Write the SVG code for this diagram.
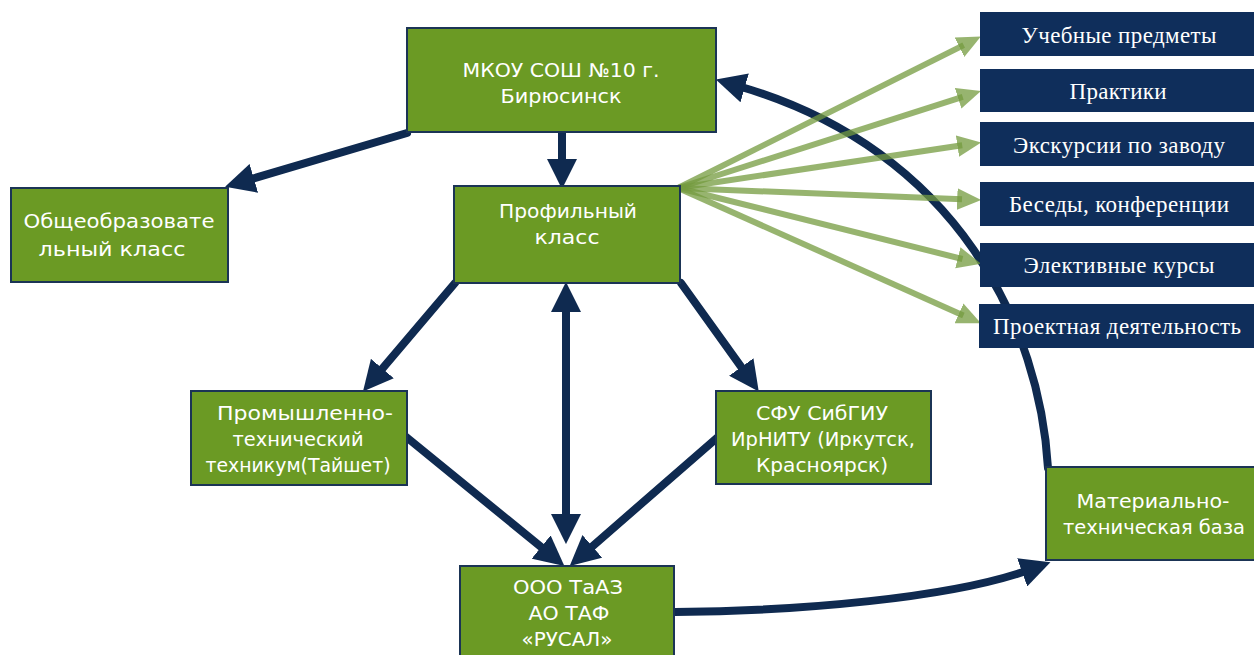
<svg xmlns="http://www.w3.org/2000/svg" width="1254" height="655" viewBox="0 0 1254 655">
<style>
.node{fill:#6b9a24;stroke:#1b3455;stroke-width:2}
.nt{fill:#ffffff;font-family:"DejaVu Sans",sans-serif;font-size:19px;text-anchor:middle}
.nav{fill:#0f2e5b}
.st{fill:#ffffff;font-family:"Liberation Serif",serif;font-size:23px;text-anchor:middle}
.ln{stroke:#0f2a50;stroke-width:8;fill:none;stroke-linecap:round}
.gl{stroke:#749b3f;stroke-opacity:0.75;stroke-width:6;fill:none}
</style>
<defs>
<marker id="ah" markerUnits="userSpaceOnUse" markerWidth="30" markerHeight="30" viewBox="0 0 26 26" refX="6" refY="13" orient="auto-start-reverse">
<path d="M0,0 L26,13 L0,26 z" fill="#0f2a50"/>
</marker>
<marker id="gh" markerUnits="userSpaceOnUse" markerWidth="24" markerHeight="24" viewBox="0 0 20 18" refX="4" refY="9" orient="auto">
<path d="M0,0 L20,9 L0,18 z" fill="#749b3f" fill-opacity="0.75"/>
</marker>
</defs>
<g id="connectors">
<line class="ln" x1="407" y1="133" x2="247.2" y2="180.3" marker-end="url(#ah)"/>
<line class="ln" x1="562" y1="132" x2="562" y2="166" marker-end="url(#ah)"/>
<line class="ln" x1="455" y1="283" x2="377.9" y2="373.8" marker-end="url(#ah)"/>
<line class="ln" x1="681" y1="283" x2="745.3" y2="372.7" marker-end="url(#ah)"/>
<line class="ln" style="stroke-linecap:butt" x1="566" y1="305" x2="566" y2="521" marker-start="url(#ah)" marker-end="url(#ah)"/>
<line class="ln" x1="405" y1="436" x2="546.5" y2="551.4" marker-end="url(#ah)"/>
<line class="ln" x1="718" y1="437" x2="587.1" y2="550.9" marker-end="url(#ah)"/>
<path class="ln" d="M675,612 C800,611 950,598 1028.7,570" marker-end="url(#ah)"/>
<path class="ln" d="M1048,468 C1040,330 960,150 738,86" marker-end="url(#ah)"/>
<line class="gl" x1="678" y1="188" x2="963.7" y2="45.1" marker-end="url(#gh)"/>
<line class="gl" x1="678" y1="188" x2="962.7" y2="96.8" marker-end="url(#gh)"/>
<line class="gl" x1="678" y1="188" x2="962.2" y2="145.3" marker-end="url(#gh)"/>
<line class="gl" x1="678" y1="188" x2="962" y2="199.2" marker-end="url(#gh)"/>
<line class="gl" x1="678" y1="188" x2="962.5" y2="259" marker-end="url(#gh)"/>
<line class="gl" x1="678" y1="188" x2="963.4" y2="315.4" marker-end="url(#gh)"/>
</g>
<g id="mkou"><rect class="node" x="407" y="28" width="309" height="104"/><text class="nt" x="561" y="77" textLength="197" lengthAdjust="spacingAndGlyphs">МКОУ СОШ №10 г.</text><text class="nt" x="561" y="103" textLength="121" lengthAdjust="spacingAndGlyphs">Бирюсинск</text></g>
<g id="obsh"><rect class="node" x="11" y="188" width="217" height="94"/><text class="nt" x="119" y="228" textLength="191" lengthAdjust="spacingAndGlyphs">Общеобразовате</text><text class="nt" x="112" y="256" textLength="147" lengthAdjust="spacingAndGlyphs">льный класс</text></g>
<g id="prof"><rect class="node" x="454" y="186" width="226" height="97"/><text class="nt" x="568" y="218" textLength="138" lengthAdjust="spacingAndGlyphs">Профильный</text><text class="nt" x="567" y="244" textLength="65" lengthAdjust="spacingAndGlyphs">класс</text></g>
<g id="prom"><rect class="node" x="191" y="391" width="216" height="94"/><text class="nt" x="305" y="420" textLength="176" lengthAdjust="spacingAndGlyphs">Промышленно-</text><text class="nt" x="298" y="446" textLength="131" lengthAdjust="spacingAndGlyphs">технический</text><text class="nt" x="298" y="472" textLength="185" lengthAdjust="spacingAndGlyphs">техникум(Тайшет)</text></g>
<g id="sfu"><rect class="node" x="716" y="391" width="215" height="93"/><text class="nt" x="822" y="420" textLength="132" lengthAdjust="spacingAndGlyphs">СФУ СибГИУ</text><text class="nt" x="823" y="446" textLength="184" lengthAdjust="spacingAndGlyphs">ИрНИТУ (Иркутск,</text><text class="nt" x="822" y="472" textLength="132" lengthAdjust="spacingAndGlyphs">Красноярск)</text></g>
<g id="ooo"><rect class="node" x="460" y="566" width="214" height="95"/><text class="nt" x="568" y="594" textLength="110" lengthAdjust="spacingAndGlyphs">ООО ТаАЗ</text><text class="nt" x="569" y="620" textLength="81" lengthAdjust="spacingAndGlyphs">АО ТАФ</text><text class="nt" x="567" y="646" textLength="91" lengthAdjust="spacingAndGlyphs">«РУСАЛ»</text></g>
<g id="mtb"><rect class="node" x="1046" y="467" width="210" height="93"/><text class="nt" x="1153" y="508" textLength="153" lengthAdjust="spacingAndGlyphs">Материально-</text><text class="nt" x="1154" y="534" textLength="182" lengthAdjust="spacingAndGlyphs">техническая база</text></g>
<g id="s1"><rect class="nav" x="980" y="12" width="274" height="44"/><text class="st" x="1119" y="43" textLength="195">Учебные предметы</text></g>
<g id="s2"><rect class="nav" x="980" y="69" width="274" height="43"/><text class="st" x="1118" y="99" textLength="97">Практики</text></g>
<g id="s3"><rect class="nav" x="980" y="122" width="274" height="44"/><text class="st" x="1119" y="153" textLength="212">Экскурсии по заводу</text></g>
<g id="s4"><rect class="nav" x="980" y="182" width="274" height="44"/><text class="st" x="1119" y="212" textLength="220">Беседы, конференции</text></g>
<g id="s5"><rect class="nav" x="980" y="243" width="274" height="44"/><text class="st" x="1119" y="273" textLength="191">Элективные курсы</text></g>
<g id="s6"><rect class="nav" x="979" y="304" width="275" height="44"/><text class="st" x="1117" y="334" textLength="248">Проектная деятельность</text></g>
</svg>
